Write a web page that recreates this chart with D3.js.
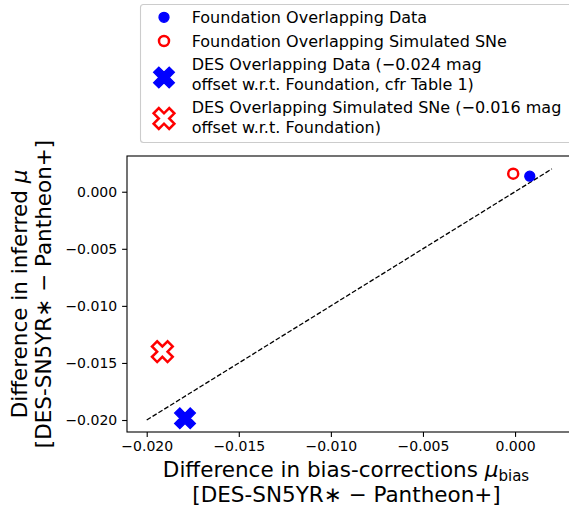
<!DOCTYPE html>
<html>
<head>
<meta charset="utf-8">
<script src="https://cdn.jsdelivr.net/npm/d3@7"></script>
<style>
  html, body { margin: 0; padding: 0; background: #fff; }
  svg { display: block; }
  text { font-family: "DejaVu Sans", sans-serif; fill: #000; }
</style>
</head>
<body>
<svg id="chart" width="569" height="510"></svg>
<script>
// ---- data ----
const seriesNames = [
  ["Foundation Overlapping Data"],
  ["Foundation Overlapping Simulated SNe"],
  ["DES Overlapping Data (\u22120.024 mag", "offset w.r.t. Foundation, cfr Table 1)"],
  ["DES Overlapping Simulated SNe (\u22120.016 mag", "offset w.r.t. Foundation)"]
];
const seriesX = [0.0008, -0.0001, -0.01792, -0.01915];
const seriesY = [0.00136, 0.00158, -0.01985, -0.01401];
const seriesMarker = ["circle", "circle", "X", "X"];
const seriesFilled = [true, false, true, false];
const seriesColor = ["#0000ff", "#ff0000", "#0000ff", "#ff0000"];
const lineX = [-0.020, 0.002];
const lineY = [-0.020, 0.002];
const xTicks = [-0.020, -0.015, -0.010, -0.005, 0.000];
const yTicks = [-0.020, -0.015, -0.010, -0.005, 0.000];

// ---- layout ----
const L = 127, R = 570.3, T = 156, B = 432;
const svg = d3.select("#chart");
const x = d3.scaleLinear().domain([-0.02107, 0.0030]).range([L, R]);
const y = d3.scaleLinear().domain([-0.02105, 0.00313]).range([B, T]);
const fmt = d3.format(".3f");

// X marker path (matplotlib 'X')
function xPath(s) {
  const base = [[-1,-3],[-1,-1],[-3,-1],[-3,1],[-1,1],[-1,3],[1,3],[1,1],[3,1],[3,-1],[1,-1],[1,-3]];
  const c = Math.SQRT1_2;
  const pts = base.map(([a,b]) => {
    const px = a / 6 * s, py = b / 6 * s;
    return [(px - py) * c, (px + py) * c];
  });
  return "M" + pts.map(p => p[0].toFixed(2) + "," + p[1].toFixed(2)).join("L") + "Z";
}
function drawMarker(g, i, cx, cy) {
  const col = seriesColor[i];
  if (seriesMarker[i] === "circle") {
    g.append("circle").attr("cx", cx).attr("cy", cy).attr("r", 5)
      .attr("fill", seriesFilled[i] ? col : "#fff")
      .attr("stroke", col).attr("stroke-width", seriesFilled[i] ? 1.3 : 2.5);
  } else {
    g.append("path").attr("d", xPath(22)).attr("transform", `translate(${cx},${cy})`)
      .attr("fill", seriesFilled[i] ? col : "#fff")
      .attr("stroke", col).attr("stroke-width", seriesFilled[i] ? 1.3 : 2.5)
      .attr("stroke-linejoin", "miter");
  }
}

// plot background
svg.append("rect").attr("x", L).attr("y", T).attr("width", R - L).attr("height", B - T)
  .attr("fill", "#fff");

// dashed y=x line
svg.append("line")
  .attr("x1", x(lineX[0])).attr("y1", y(lineY[0]))
  .attr("x2", x(lineX[1])).attr("y2", y(lineY[1]))
  .attr("stroke", "#000").attr("stroke-width", 1.3).attr("stroke-dasharray", "4.8,2.1");

// points
const pts = svg.append("g");
seriesX.forEach((v, i) => drawMarker(pts, i, x(v), y(seriesY[i])));

// axes
const xAxis = d3.axisBottom(x).tickValues(xTicks).tickFormat(fmt).tickSize(4.9).tickPadding(4.5).tickSizeOuter(0);
const yAxis = d3.axisLeft(y).tickValues(yTicks).tickFormat(fmt).tickSize(4.9).tickPadding(4.9).tickSizeOuter(0);
const gx = svg.append("g").attr("transform", `translate(0,${B})`).call(xAxis);
const gy = svg.append("g").attr("transform", `translate(${L},0)`).call(yAxis);
[gx, gy].forEach(g => {
  g.select(".domain").remove();
  g.selectAll(".tick line").attr("stroke", "#000").attr("stroke-width", 1.1);
  g.selectAll(".tick text").attr("font-size", 14).attr("font-family", "DejaVu Sans").attr("fill", "#000");
});

// spines
svg.append("rect").attr("x", L).attr("y", T).attr("width", R - L).attr("height", B - T)
  .attr("fill", "none").attr("stroke", "#000").attr("stroke-width", 1.1);

// x label
const xl = svg.append("text").attr("x", 346).attr("y", 477).attr("text-anchor", "middle").attr("font-size", 21.5);
xl.append("tspan").text("Difference in bias-corrections ");
xl.append("tspan").attr("font-style", "italic").text("\u03bc");
xl.append("tspan").attr("font-size", 15).attr("dy", 4).text("bias");
svg.append("text").attr("x", 346.5).attr("y", 502).attr("text-anchor", "middle").attr("font-size", 21.5)
  .text("[DES-SN5YR\u2217 \u2212 Pantheon+]");

// y label
const ycy = (T + B) / 2;
const yl = svg.append("text").attr("transform", `translate(26.5,${ycy}) rotate(-90)`)
  .attr("text-anchor", "middle").attr("font-size", 21.5);
yl.append("tspan").text("Difference in inferred ");
yl.append("tspan").attr("font-style", "italic").text("\u03bc");
svg.append("text").attr("transform", `translate(51,${ycy}) rotate(-90)`)
  .attr("text-anchor", "middle").attr("font-size", 21.5)
  .text("[DES-SN5YR\u2217 \u2212 Pantheon+]");

// legend
const lg = svg.append("g");
lg.append("rect").attr("x", 140.5).attr("y", 4.5).attr("width", 460).attr("height", 138)
  .attr("rx", 3).attr("fill", "#fff").attr("stroke", "#cccccc").attr("stroke-width", 1.1);
const markerY = [17.3, 41, 77.5, 118.5];
const textBase = [[23.3], [46.7], [70, 89.5], [113.3, 132.7]];
seriesNames.forEach((lines, i) => {
  drawMarker(lg, i, 164, markerY[i]);
  lines.forEach((t, j) => {
    lg.append("text").attr("x", 191.7).attr("y", textBase[i][j]).attr("font-size", 16).text(t);
  });
});
</script>
</body>
</html>
